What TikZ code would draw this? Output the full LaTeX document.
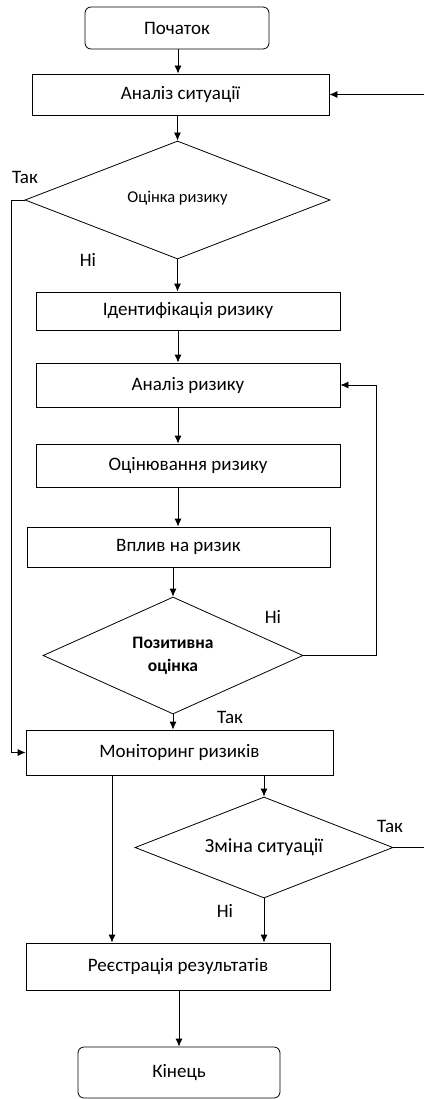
\documentclass[tikz,border=0pt]{standalone}
\usepackage{fontspec}
\setmainfont{Carlito}
\usetikzlibrary{arrows.meta,shapes.geometric}
\begin{document}
\begin{tikzpicture}[x=1pt,y=-1pt,
  every node/.style={text=black},
  box/.style={draw=black, line width=0.8pt, rectangle, inner sep=0pt, font=\fontsize{19}{22}\selectfont},
  term/.style={box, rounded corners=6pt},
  dec/.style={draw=black, line width=0.8pt, diamond, inner sep=0pt, align=center},
  lbl/.style={font=\fontsize{19}{22}\selectfont, inner sep=0pt},
  conn/.style={line width=0.8pt, -{Latex[length=8pt,width=7pt]}},
  line/.style={line width=0.8pt}]
\useasboundingbox (0,0) rectangle (424,1099);
\fill[white] (0,0) rectangle (424,1099);
% nodes
\node[term, minimum width=184, minimum height=42] (start) at (177,28) {Початок};
\node[box, minimum width=297, minimum height=41] (sit) at (180.5,94.5) {Аналіз ситуації};
\node[dec, shape aspect=2.58, minimum width=305, minimum height=118, font=\fontsize{16.5}{19}\selectfont] (d1) at (177.5,200) {\raisebox{6pt}{Оцінка ризику}};
\node[box, minimum width=304, minimum height=38] (ident) at (188,311) {Ідентифікація ризику};
\node[box, minimum width=304, minimum height=44] (anr) at (188,385) {Аналіз ризику};
\node[box, minimum width=304, minimum height=43] (ocin) at (188,465.5) {Оцінювання ризику};
\node[box, minimum width=303, minimum height=40] (vplyv) at (178.5,547) {Вплив на ризик};
\node[dec, shape aspect=2.22, minimum width=260, minimum height=117, font=\bfseries\fontsize{17.5}{23}\selectfont] (d2) at (173,655.5) {Позитивна\\оцінка};
\node[box, minimum width=307, minimum height=45] (mon) at (179.5,752.5) {Моніторинг ризиків};
\node[dec, shape aspect=2.55, minimum width=258, minimum height=101, font=\fontsize{20}{23}\selectfont] (d3) at (264,847.5) {Зміна ситуації};
\node[box, minimum width=304, minimum height=47] (reg) at (178,966.5) {Реєстрація результатів};
\node[term, minimum width=202, minimum height=51] (end) at (179,1072.5) {Кінець};
% labels
\node[lbl] (l1) at (25,177) {Так};
\node[lbl] (l2) at (88,260) {Ні};
\node[lbl] (l3) at (273,617) {Ні};
\node[lbl] (l4) at (230,717) {Так};
\node[lbl] (l5) at (390,826) {Так};
\node[lbl] (l6) at (225,911) {Ні};
% helper coordinates
\coordinate (rloop) at (376,385);
\coordinate (lloop) at (11,752.5);
\coordinate (lx) at (112,0);
\coordinate (ax) at (178,0);
\coordinate (edgeTop) at (424,94.5);
\coordinate (edgeBot) at (424,847.5);
% connectors
\draw[conn] (start.south -| ax) -- (sit.north -| ax);
\draw[conn] (sit.south -| d1.north) -- (d1.north);
\draw[conn] (d1.south) -- (ident.north -| d1.south);
\draw[conn] (ident.south -| ax) -- (anr.north -| ax);
\draw[conn] (anr.south -| ax) -- (ocin.north -| ax);
\draw[conn] (ocin.south -| ax) -- (vplyv.north -| ax);
\draw[conn] (vplyv.south -| d2.north) -- (d2.north);
\draw[conn] (d2.east) -| (rloop) -- (anr.east);
\draw[conn] (d2.south) -- (mon.north -| d2.south);
\draw[conn] (d1.west) -| (lloop) -- (mon.west);
\draw[conn] (mon.south -| lx) -- (reg.north -| lx);
\draw[conn] (mon.south -| d3.north) -- (d3.north);
\draw[conn] (d3.south) -- (reg.north -| d3.south);
\draw[line] (d3.east) -- (edgeBot);
\draw[conn] (edgeTop) -- (sit.east);
\draw[conn] (reg.south -| end.north) -- (end.north);
\end{tikzpicture}
\end{document}
